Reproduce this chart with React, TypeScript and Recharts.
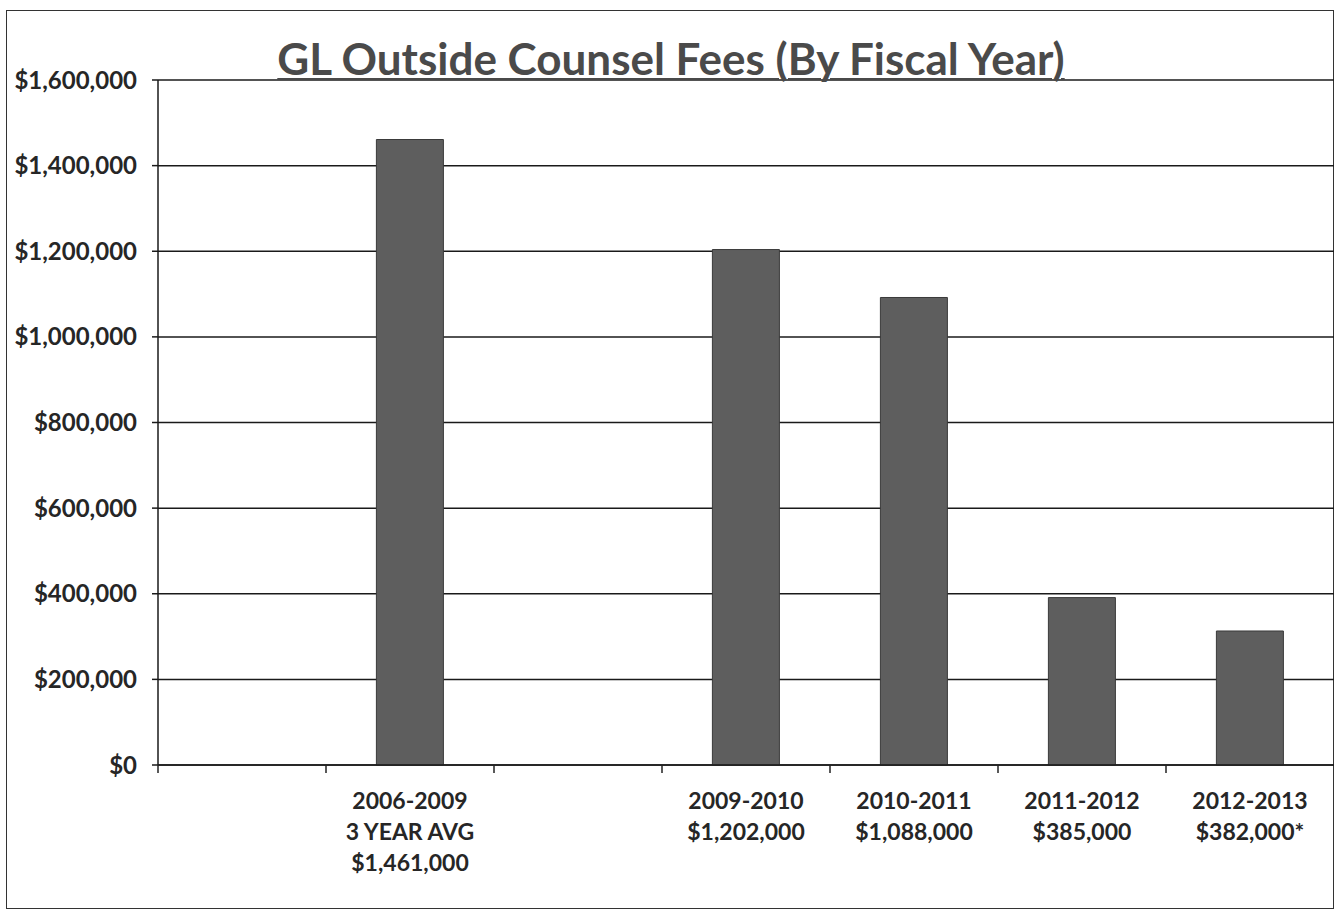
import { Bar, BarChart, CartesianGrid, XAxis, YAxis } from 'recharts';

// seven category slots, two of them left empty as in the original sheet
const slots = ['s1', 's2', 's3', 's4', 's5', 's6', 's7'];
const periods = ['', '2006-2009', '', '2009-2010', '2010-2011', '2011-2012', '2012-2013'];
const periodNotes = [
  [],
  ['3 YEAR AVG', '$1,461,000'],
  [],
  ['$1,202,000'],
  ['$1,088,000'],
  ['$385,000'],
  ['$382,000*'],
];
const fees = [null, 1461000, null, 1204000, 1092000, 391000, 313000];
const feeTicks = [0, 200000, 400000, 600000, 800000, 1000000, 1200000, 1400000, 1600000];

const W = 1334;
const H = 910;
const AXIS_W = 158;
const BAND = (W - AXIS_W) / slots.length;
const FONT = 'Lato, "Open Sans", sans-serif';

const chartData = slots.map((slot, i) => ({ slot, fee: fees[i] }));

const money = (v: number) => '$' + v.toLocaleString('en-US');

function PeriodTick({ x, y, payload }: any) {
  const i = payload.index;
  const lines = periods[i] ? [periods[i], ...periodNotes[i]] : [];
  return (
    <g>
      <line x1={x - BAND / 2} x2={x - BAND / 2} y1={y} y2={y + 8} stroke="#222" strokeWidth={1.5} />
      {lines.map((t, k) => (
        <text
          key={k}
          x={x}
          y={y + 44 + k * 31}
          textAnchor="middle"
          fill="#262626"
          fontSize={23}
          fontWeight={700}
          fontFamily={FONT}
        >
          {t}
        </text>
      ))}
    </g>
  );
}

export default function App() {
  return (
    <div style={{ position: 'absolute', left: 0, top: 0, width: W, height: H, background: '#fff' }}>
      <div
        style={{
          position: 'absolute',
          left: 6,
          top: 10,
          width: 1326,
          height: 897,
          border: '1.5px solid #333',
        }}
      />
      <BarChart
        width={W}
        height={H}
        data={chartData}
        margin={{ top: 80, right: 0, left: 0, bottom: 115 }}
        barCategoryGap="30%"
      >
        <CartesianGrid vertical={false} stroke="#1a1a1a" strokeWidth={1.5} />
        <YAxis
          width={AXIS_W}
          domain={[0, 1600000]}
          ticks={feeTicks}
          tickFormatter={money}
          axisLine={{ stroke: '#1a1a1a', strokeWidth: 1.5 }}
          tickLine={{ stroke: '#1a1a1a', strokeWidth: 1.5 }}
          tickSize={6}
          tickMargin={15}
          tick={{ fill: '#262626', fontSize: 24, fontWeight: 700, fontFamily: FONT }}
        />
        <XAxis
          dataKey="slot"
          height={30}
          axisLine={{ stroke: '#1a1a1a', strokeWidth: 1.5 }}
          tickLine={false}
          tickSize={0}
          tickMargin={0}
          interval={0}
          tick={<PeriodTick />}
        />
        <Bar dataKey="fee" fill="#5e5e5e" stroke="#3a3a3a" strokeWidth={1} isAnimationActive={false} />
      </BarChart>
      <div
        style={{
          position: 'absolute',
          left: 0,
          width: 1342,
          top: 36,
          textAlign: 'center',
          fontFamily: FONT,
          fontSize: 44,
          fontWeight: 700,
          color: '#4a4a4a',
          textDecoration: 'underline',
          textDecorationThickness: 2,
          textUnderlineOffset: 3,
          lineHeight: '44px',
        }}
      >
        GL Outside Counsel Fees (By Fiscal Year)
      </div>
    </div>
  );
}
